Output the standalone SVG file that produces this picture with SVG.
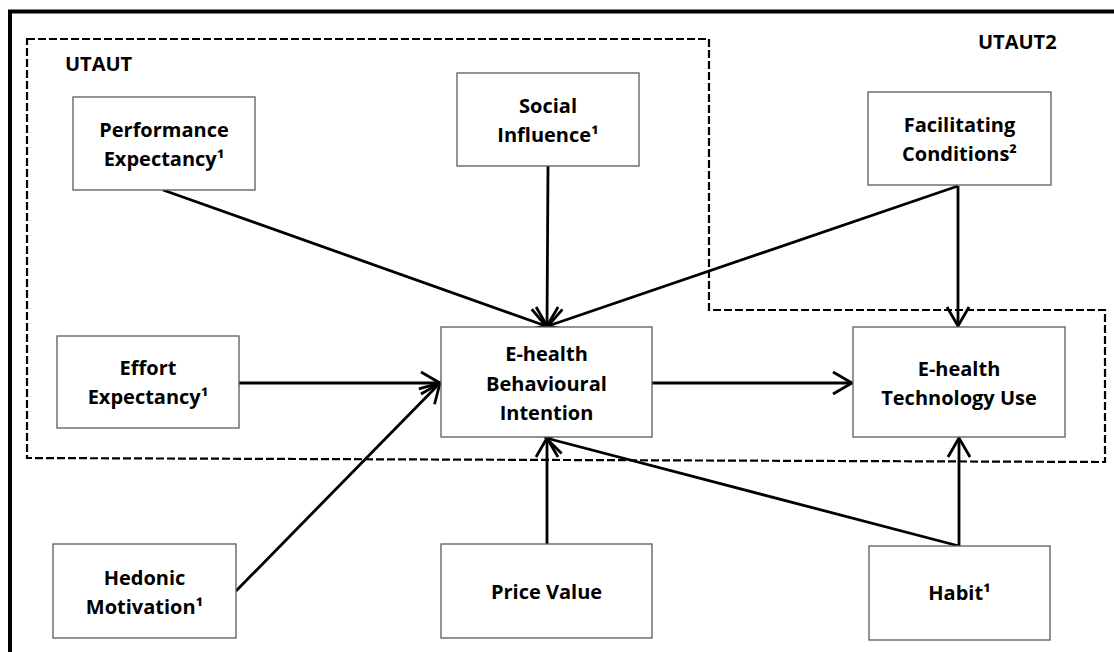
<svg xmlns="http://www.w3.org/2000/svg" width="1114" height="652" viewBox="0 0 1114 652">
  <style>
    .box { fill: #ffffff; stroke: #5a5a5a; stroke-width: 1.3; }
    .lbl { font-family: "Open Sans", "Liberation Sans", Arial, sans-serif; font-weight: 700; font-size: 20px; fill: #000000; text-anchor: middle; }
    .title { font-family: "Open Sans", "Liberation Sans", Arial, sans-serif; font-weight: 700; font-size: 20px; fill: #000000; }
    .conn { stroke: #000000; stroke-width: 2.8; fill: none; marker-end: url(#arrow); }
    .dash { stroke: #000000; stroke-width: 2.2; fill: none; stroke-dasharray: 8 3; }
  </style>
  <defs>
    <marker id="arrow" markerUnits="userSpaceOnUse" markerWidth="26" markerHeight="26" viewBox="0 0 26 26" refX="22" refY="13" orient="auto">
      <path d="M3,2 L22,13 L3,24" fill="none" stroke="#000000" stroke-width="2.8" stroke-linejoin="miter"/>
    </marker>
  </defs>
  <rect x="0" y="0" width="1114" height="652" fill="#ffffff"/>

  <!-- outer frame -->
  <path d="M10,660 L10,11.5 L1120,11.5" fill="none" stroke="#000000" stroke-width="4"/>

  <!-- UTAUT / UTAUT2 dashed boundary -->
  <g id="boundary">
    <path class="dash" d="M27,39 L709,39 L709,310 L1105,310 L1105,462 L27,458 Z"/>
    <text class="title" x="65" y="71">UTAUT</text>
    <text class="title" x="978" y="49">UTAUT2</text>
  </g>

  <!-- connectors -->
  <g id="connectors">
    <line class="conn" x1="163" y1="190" x2="546" y2="326"/>
    <line class="conn" x1="548" y1="166" x2="547" y2="326"/>
    <line class="conn" x1="958" y1="186" x2="548" y2="326"/>
    <line class="conn" x1="958" y1="186" x2="958" y2="326"/>
    <line class="conn" x1="239" y1="383" x2="440" y2="383"/>
    <line class="conn" x1="236" y1="591" x2="440" y2="383"/>
    <line class="conn" x1="652" y1="383" x2="852" y2="383"/>
    <line class="conn" x1="547" y1="544" x2="547" y2="438"/>
    <line class="conn" x1="959" y1="546" x2="546" y2="438"/>
    <line class="conn" x1="959" y1="546" x2="959" y2="438"/>
  </g>

  <g id="performance-expectancy">
    <rect class="box" x="73" y="97" width="182" height="93"/>
    <text class="lbl" x="164" y="137">Performance</text>
    <text class="lbl" x="164" y="166">Expectancy¹</text>
  </g>
  <g id="social-influence">
    <rect class="box" x="457" y="73" width="182" height="93"/>
    <text class="lbl" x="548" y="113">Social</text>
    <text class="lbl" x="548" y="142">Influence¹</text>
  </g>
  <g id="facilitating-conditions">
    <rect class="box" x="868" y="92" width="183" height="93"/>
    <text class="lbl" x="959.5" y="132">Facilitating</text>
    <text class="lbl" x="959.5" y="161">Conditions²</text>
  </g>
  <g id="effort-expectancy">
    <rect class="box" x="57" y="336" width="182" height="92"/>
    <text class="lbl" x="148" y="375">Effort</text>
    <text class="lbl" x="148" y="404">Expectancy¹</text>
  </g>
  <g id="behavioural-intention">
    <rect class="box" x="441" y="327" width="211" height="110"/>
    <text class="lbl" x="546.5" y="361">E-health</text>
    <text class="lbl" x="546.5" y="391">Behavioural</text>
    <text class="lbl" x="546.5" y="420">Intention</text>
  </g>
  <g id="technology-use">
    <rect class="box" x="853" y="327" width="212" height="110"/>
    <text class="lbl" x="959" y="376">E-health</text>
    <text class="lbl" x="959" y="405">Technology Use</text>
  </g>
  <g id="hedonic-motivation">
    <rect class="box" x="53" y="544" width="183" height="94"/>
    <text class="lbl" x="144.5" y="585">Hedonic</text>
    <text class="lbl" x="144.5" y="614">Motivation¹</text>
  </g>
  <g id="price-value">
    <rect class="box" x="441" y="544" width="211" height="94"/>
    <text class="lbl" x="546.5" y="599">Price Value</text>
  </g>
  <g id="habit">
    <rect class="box" x="869" y="546" width="181" height="94"/>
    <text class="lbl" x="959.5" y="600">Habit¹</text>
  </g>
</svg>
